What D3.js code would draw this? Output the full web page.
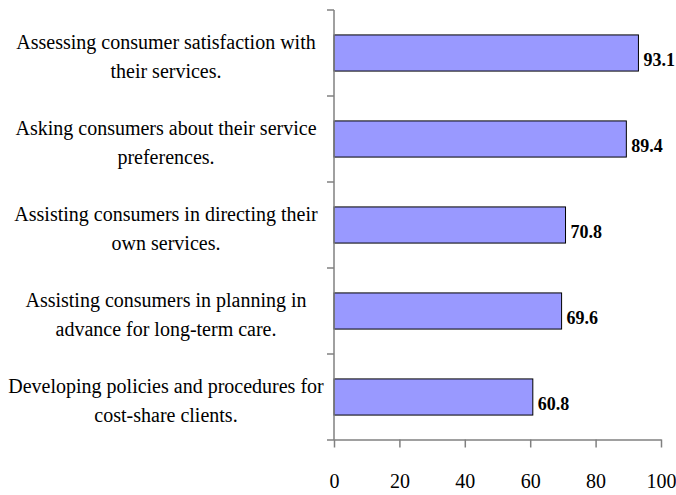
<!DOCTYPE html>
<html>
<head>
<meta charset="utf-8">
<script src="https://cdn.jsdelivr.net/npm/d3@7"></script>
<style>
  html, body { margin: 0; padding: 0; background: #fff; }
  svg { display: block; }
</style>
</head>
<body>
<svg id="chart" width="676" height="495"></svg>
<script>
const categories = [
  ["Assessing consumer satisfaction with", "their services."],
  ["Asking consumers about their service", "preferences."],
  ["Assisting consumers in directing their", "own services."],
  ["Assisting consumers in planning in", "advance for long-term care."],
  ["Developing policies and procedures for", "cost-share clients."]
];
const values = [93.1, 89.4, 70.8, 69.6, 60.8];
const xTicks = [0, 20, 40, 60, 80, 100];

const svg = d3.select("#chart");
const fontFamily = "'Liberation Serif', 'Times New Roman', serif";
const axisColor = "#808080";

const x = d3.scaleLinear().domain([0, 100]).range([334, 661]);
const keys = categories.map((c, i) => i);
const y = d3.scaleBand().domain(keys).range([10, 440]).paddingInner(0.58).paddingOuter(0.29);

// bars
svg.append("g").selectAll("rect").data(values).join("rect")
  .attr("x", x(0))
  .attr("y", (d, i) => y(i))
  .attr("width", d => x(d) - x(0))
  .attr("height", y.bandwidth())
  .attr("fill", "#9999FF")
  .attr("stroke", "#000")
  .attr("stroke-width", 1);

// y axis line + boundary ticks
const step = y.step();
const bounds = keys.map(i => y(i) - (step - y.bandwidth()) / 2).concat([y(keys.length - 1) + y.bandwidth() + (step - y.bandwidth()) / 2]);
const ga = svg.append("g").attr("stroke", axisColor).attr("stroke-width", 1.5);
ga.append("line").attr("x1", x(0)).attr("x2", x(0)).attr("y1", bounds[0]).attr("y2", bounds[bounds.length - 1]);
ga.selectAll("line.yt").data(bounds).join("line").attr("class", "yt")
  .attr("x1", x(0) - 7).attr("x2", x(0)).attr("y1", d => d).attr("y2", d => d);

// x axis
const axisY = bounds[bounds.length - 1] - 0.5;
const xAxis = svg.append("g").attr("transform", `translate(0,${axisY})`)
  .call(d3.axisBottom(x).tickValues(xTicks).tickSize(8).tickPadding(26).tickSizeOuter(0));
xAxis.select(".domain").attr("stroke", axisColor).attr("stroke-width", 1.5);
xAxis.selectAll(".tick line").attr("stroke", axisColor).attr("stroke-width", 1.5);
xAxis.selectAll(".tick text")
  .attr("fill", "#000")
  .style("font-family", fontFamily)
  .style("font-size", "20px");

// category labels
const lab = svg.append("g").attr("font-family", fontFamily).attr("font-size", "20px").attr("fill", "#000");
categories.forEach((lines, i) => {
  const cy = y(i) + y.bandwidth() / 2;
  lines.forEach((t, j) => {
    lab.append("text")
      .attr("x", 166)
      .attr("y", cy - 4 + j * 29)
      .attr("text-anchor", "middle")
      .text(t);
  });
});

// value labels
svg.append("g").selectAll("text").data(values).join("text")
  .attr("x", d => x(d) + 5)
  .attr("y", (d, i) => y(i) + y.bandwidth() / 2 + 13)
  .attr("font-family", fontFamily)
  .attr("font-size", "18px")
  .attr("font-weight", "bold")
  .attr("fill", "#000")
  .text(d => d.toFixed(1));
</script>
</body>
</html>
